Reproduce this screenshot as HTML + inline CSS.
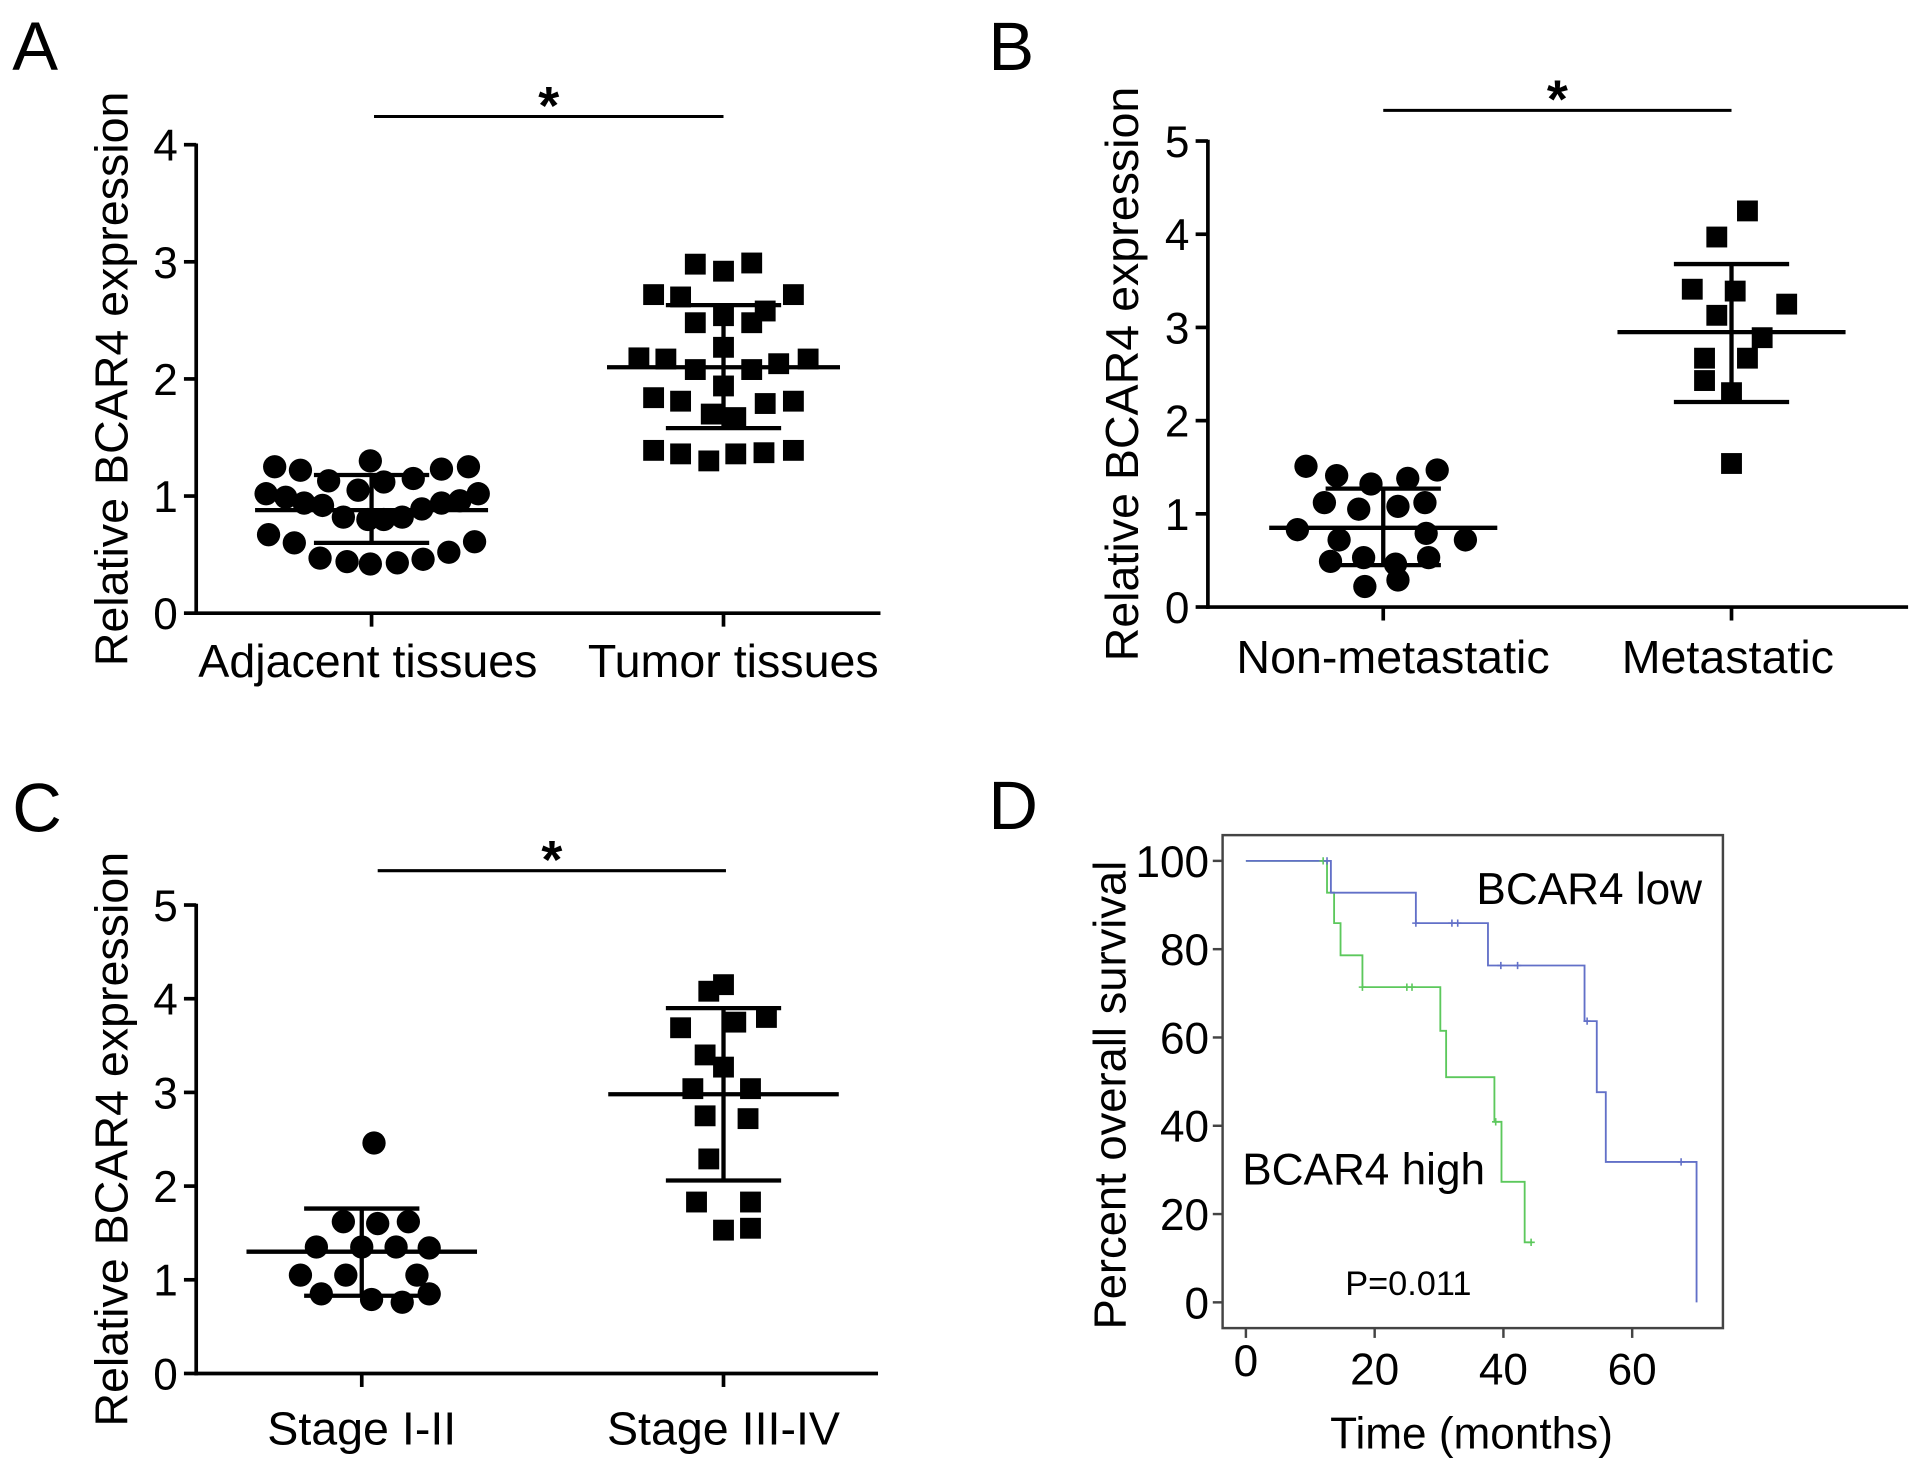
<!DOCTYPE html>
<html><head><meta charset="utf-8"><style>
html,body{margin:0;padding:0;background:#fff;}
svg{display:block;font-family:"Liberation Sans",Arial,sans-serif;}
</style></head><body>
<svg id="fig" width="1913" height="1463" viewBox="0 0 1560 1193" preserveAspectRatio="none" xmlns="http://www.w3.org/2000/svg">
<text x="10" y="57" font-size="56">A</text>
<text x="806" y="57" font-size="56">B</text>
<text x="10" y="678" font-size="56">C</text>
<text x="806" y="676" font-size="56">D</text>
</svg>
<script>
// ---- Panel A data ----
const aCats = ["Adjacent tissues","Tumor tissues"];
const aTicks = [0,1,2,3,4];
const aAdj = [1.25,1.22,1.13,1.30,1.12,1.15,1.23,1.25,1.02,0.99,0.94,0.92,1.05,0.82,0.80,0.80,0.82,0.89,0.94,0.96,1.02,0.67,0.60,0.47,0.44,0.42,0.43,0.46,0.52,0.61];
const aAdjJit = [-79,-58,-35,-1,10,34,57,79,-86,-70,-55,-40,-11,-23,-3,10,25,41,57,72,87,-84,-63,-42,-20,-1,21,42,63,84];
const aTum = [2.98,2.92,2.99,2.72,2.70,2.72,2.48,2.54,2.48,2.58,2.27,2.18,2.17,2.08,2.08,2.13,2.17,1.94,1.84,1.81,1.79,1.81,1.70,1.67,1.39,1.36,1.30,1.36,1.37,1.39];
const aTumJit = [-23,0,23,-57,-35,57,-23,0,23,34,0,-69,-47,-23,23,45,69,0,-57,-35,34,57,-10,10,-57,-35,-12,10,33,57];
const aStats = [[0.88,1.18,0.60],[2.10,2.63,1.58]];
// ---- Panel B data ----
const bCats = ["Non-metastatic","Metastatic"];
const bTicks = [0,1,2,3,4,5];
const bNon = [1.51,1.41,1.32,1.38,1.47,1.12,1.05,1.08,1.12,0.83,0.72,0.79,0.72,0.49,0.53,0.46,0.53,0.22,0.29];
const bNonJit = [-63,-38,-10,20,44,-48,-20,12,34,-70,-36,35,67,-43,-16,10,37,-15,12];
const bMet = [4.25,3.97,3.41,3.39,3.25,3.13,2.89,2.67,2.67,2.43,2.30,1.54];
const bMetJit = [13,-12,-32,3,45,-12,25,-22,13,-22,0,0];
const bStats = [[0.85,1.27,0.45],[2.95,3.68,2.20]];
// ---- Panel C data ----
const cCats = ["Stage I-II","Stage III-IV"];
const cTicks = [0,1,2,3,4,5];
const cLow = [2.46,1.62,1.60,1.62,1.35,1.35,1.35,1.34,1.05,1.05,1.05,0.85,0.79,0.76,0.85];
const cLowJit = [10,-15,13,38,-37,0,28,55,-50,-13,45,-33,8,33,55];
const cHigh = [4.15,4.08,3.69,3.75,3.80,3.40,3.27,3.04,3.04,2.75,2.72,2.29,1.83,1.83,1.53,1.55];
const cHighJit = [0,-12,-35,10,35,-15,0,-25,22,-15,20,-12,-22,22,0,22];
const cStats = [[1.30,1.76,0.83],[2.98,3.90,2.06]];
// ---- Panel D data (Kaplan-Meier) ----
const dXTicks = [0,20,40,60];
const dYTicks = [0,20,40,60,80,100];
const lowT = [0,13.2,26.4,37.6,52.6,54.5,55.9,70.0];
const lowS = [100,92.8,85.9,76.3,63.7,47.6,31.8,0];
const lowCensT = [12.6,26.4,32.0,32.9,39.6,42.2,53.0,67.6];
const lowCensS = [100,85.9,85.9,85.9,76.3,76.3,63.7,31.8];
const highT = [0,12.6,13.7,14.7,18.1,30.2,31.1,38.6,39.7,43.3];
const highS = [100,92.8,85.9,78.6,71.4,61.5,51.0,40.9,27.3,13.6];
const highEnd = 44.5;
const highCensT = [12.0,18.1,25.0,25.8,38.8,44.3];
const highCensS = [100,71.4,71.4,71.4,40.9,13.6];

const svg = document.getElementById('fig');
const NS = "http://www.w3.org/2000/svg";
function mk(tag, attrs, parent){const e=document.createElementNS(NS,tag);for(const k in attrs)e.setAttribute(k,attrs[k]);(parent||svg).appendChild(e);return e;}

function scatterPanel(cfg){
  const g = mk('g',{});
  
  
  const y = v => cfg.y0 - (v - 0) * (cfg.y0 - cfg.yTop) / cfg.ymax;
  const line=(x1,y1,x2,y2,w,nm)=>{const l=mk('line',{x1,y1,x2,y2,stroke:'#000','stroke-width':w||3},g);return l;};
  line(cfg.ax, y(cfg.ymax)-1, cfg.ax, cfg.y0+1.5, 3, 'y-axis');
  line(cfg.ax-1.5, cfg.y0, cfg.axEnd, cfg.y0, 3, 'x-axis');
  cfg.ticks.forEach(t=>{
    line(cfg.ax-10, y(t), cfg.ax, y(t), 3, 'y-tick');
    const tx=mk('text',{x:cfg.ax-15,y:y(t)+13,'font-size':36,'text-anchor':'end'},g);tx.textContent=t;
    
  });
  const yt=mk('text',{x:0,y:0,'font-size':38,'text-anchor':'middle',transform:`translate(${cfg.ytX},${(cfg.y0+y(cfg.ymax))/2}) rotate(-90)`,'xml:space':'preserve'},g);
  yt.textContent='Relative  BCAR4 expression';
  
  cfg.cats.forEach((c,i)=>{
    const cx=cfg.cx[i];
    line(cx,cfg.y0,cx,cfg.y0+11,3,'x-tick');
    const tx=mk('text',{x:cx-(cfg.labShift?cfg.labShift[i]:0),y:cfg.labY,'font-size':38,'text-anchor':'middle'},g);tx.textContent=c;
    
    const vals=cfg.vals[i], jit=cfg.jit[i];
    vals.forEach((v,k)=>{
      let m;
      if(i===0) m=mk('circle',{cx:cx+jit[k],cy:y(v),r:9.5,fill:'#000'},g);
      else m=mk('rect',{x:cx+jit[k]-8.5,y:y(v)-8.5,width:17,height:17,fill:'#000'},g);
      
      
    });
    const s=cfg.stats[i];
    line(cx-cfg.meanHalf,y(s[0]),cx+cfg.meanHalf,y(s[0]),3.5,'mean-line');
    line(cx,y(s[1]),cx,y(s[2]),3.5,'sd-whisker');
    line(cx-cfg.capHalf,y(s[1]),cx+cfg.capHalf,y(s[1]),3.5,'sd-cap-upper');
    line(cx-cfg.capHalf,y(s[2]),cx+cfg.capHalf,y(s[2]),3.5,'sd-cap-lower');
  });
  line(cfg.sig[0],cfg.sig[2],cfg.sig[1],cfg.sig[2],2.5,'significance-bar');
  const st=mk('text',{x:(cfg.sig[0]+cfg.sig[1])/2,y:cfg.sig[2]+6,'font-size':44,'font-weight':'bold','text-anchor':'middle'},g);st.textContent='*';
  
}

scatterPanel({name:'panel-a',ax:160,axEnd:718,y0:500,yTop:118,ymax:4,ticks:aTicks,cats:aCats,cx:[303,590],labY:552,ytX:104,labShift:[3,-8],
  vals:[aAdj,aTum],jit:[aAdjJit,aTumJit],stats:aStats,meanHalf:95,capHalf:47,sig:[305,590,95]});
scatterPanel({name:'panel-b',ax:985,axEnd:1556,y0:495,yTop:115,ymax:5,ticks:bTicks,cats:bCats,cx:[1128,1412],labY:549,ytX:928,labShift:[-8,3],
  vals:[bNon,bMet],jit:[bNonJit,bMetJit],stats:bStats,meanHalf:93,capHalf:47,sig:[1128,1412,90]});
scatterPanel({name:'panel-c',ax:160,axEnd:716,y0:1120,yTop:738,ymax:5,ticks:cTicks,cats:cCats,cx:[295,590],labY:1178,ytX:104,
  vals:[cLow,cHigh],jit:[cLowJit,cHighJit],stats:cStats,meanHalf:94,capHalf:47,sig:[308,592,710]});

// ---- Panel D ----
(function(){
  const g=mk('g',{});
  
  
  const X=t=>1016+t*5.25, Y=s=>1062-s*3.6;
  const fr=mk('rect',{x:997,y:681,width:408,height:402,fill:'none',stroke:'#444','stroke-width':2},g);
  
  dYTicks.forEach(t=>{
    const l=mk('line',{x1:989,y1:Y(t),x2:997,y2:Y(t),stroke:'#444','stroke-width':2},g);
    
    const tx=mk('text',{x:986,y:Y(t)+13,'font-size':36,'text-anchor':'end'},g);tx.textContent=t;
    
  });
  dXTicks.forEach(t=>{
    const l=mk('line',{x1:X(t),y1:1083,x2:X(t),y2:1091,stroke:'#444','stroke-width':2},g);
    
    const tx=mk('text',{x:X(t),y:t===0?1122:1129,'font-size':36,'text-anchor':'middle'},g);tx.textContent=t;
    
  });
  const yt=mk('text',{x:0,y:0,'font-size':37,'text-anchor':'middle',transform:'translate(918,893) rotate(-90)'},g);yt.textContent='Percent overall survival';
  
  const xt=mk('text',{x:1200,y:1181,'font-size':36,'text-anchor':'middle'},g);xt.textContent='Time (months)';
  
  function km(T,S,end,color,nm){
    let d=`M${X(T[0])},${Y(S[0])}`;
    for(let i=1;i<T.length;i++){d+=` H${X(T[i])} V${Y(S[i])}`;}
    if(end!==null) d+=` H${X(end)}`;
    const p=mk('path',{d,fill:'none',stroke:color,'stroke-width':1.5},g);
    
  }
  function cens(T,S,color,nm){
    T.forEach((t,i)=>{
      const l=mk('path',{d:`M${X(t)-3},${Y(S[i])} H${X(t)+3} M${X(t)},${Y(S[i])-3} V${Y(S[i])+3}`,stroke:color,'stroke-width':1.3},g);
      
    });
  }
  km(highT,highS,highEnd,'#5cc85c','curve-bcar4-high');
  km(lowT,lowS,null,'#6270c8','curve-bcar4-low');
  cens(highCensT,highCensS,'#5cc85c','censor-mark-high');
  cens(lowCensT,lowCensS,'#6270c8','censor-mark-low');
  const a=mk('text',{x:1204,y:737,'font-size':36},g);a.textContent='BCAR4 low';
  
  const b=mk('text',{x:1013,y:966,'font-size':36},g);b.textContent='BCAR4 high';
  
  const p=mk('text',{x:1097,y:1056,'font-size':28},g);p.textContent='P=0.011';
  
})();
</script>
</body></html>
